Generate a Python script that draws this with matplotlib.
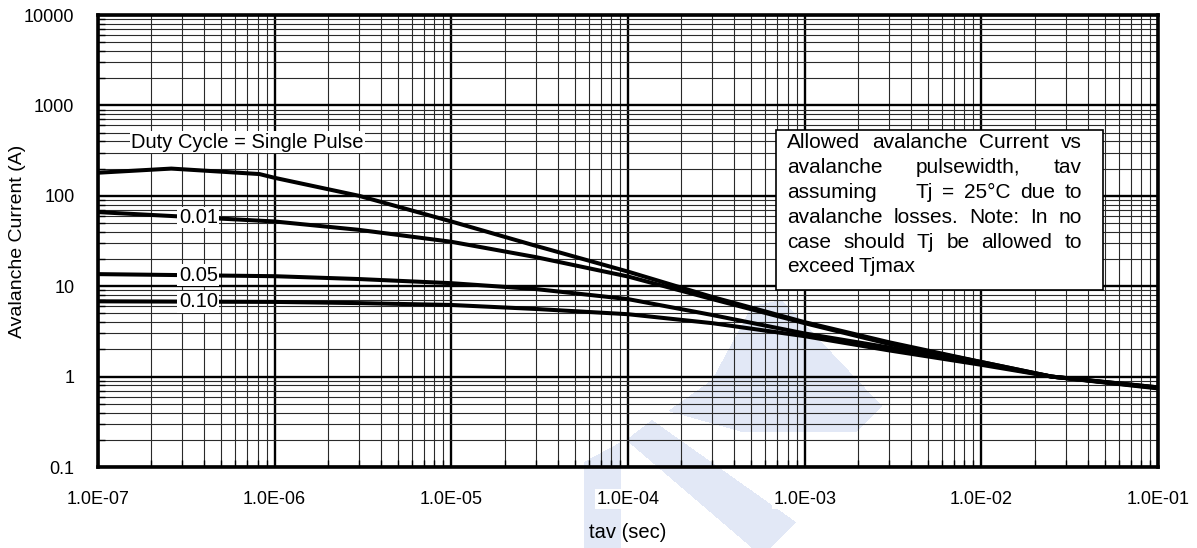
import matplotlib
matplotlib.use("Agg")
import matplotlib.pyplot as plt
import matplotlib.ticker as mticker
from matplotlib.path import Path
from matplotlib.patches import Rectangle
import numpy as np

plt.rcParams["font.family"] = ["Liberation Sans", "DejaVu Sans"]

W, H = 1197, 548

# Avalanche current (A) vs pulse width tav (s)
single_tav = [1e-7, 2.6e-7, 8.2e-7, 1e-6, 3e-6, 1e-5, 3e-5, 1e-4, 3e-4, 1e-3, 3e-3, 1e-2, 2.5e-2, 1e-1]
single_ia = [180, 200, 174, 158, 100, 52, 28, 14.5, 7.6, 4.0, 2.4, 1.45, 1.0, 0.76]

duty_tav = [1e-7, 1e-6, 3e-6, 1e-5, 3e-5, 1e-4, 3e-4, 1e-3, 3e-3, 1e-2, 2.5e-2, 1e-1]
duty001_ia = [66, 52, 42, 31, 21, 12.8, 7.2, 3.9, 2.3, 1.45, 1.0, 0.76]
duty005_ia = [13.6, 12.9, 12.0, 10.8, 9.3, 7.2, 4.8, 3.0, 2.1, 1.4, 1.0, 0.75]
duty010_ia = [6.8, 6.7, 6.5, 6.2, 5.6, 4.9, 3.9, 2.8, 1.95, 1.35, 1.0, 0.74]

duty_labels = ["0.01", "0.05", "0.10"]
label_tav = 3.7e-7

x_ticks = [1e-7, 1e-6, 1e-5, 1e-4, 1e-3, 1e-2, 1e-1]
x_ticklabels = ["1.0E-07", "1.0E-06", "1.0E-05", "1.0E-04", "1.0E-03", "1.0E-02", "1.0E-01"]
y_ticks = [0.1, 1, 10, 100, 1000, 10000]
y_ticklabels = ["0.1", "1", "10", "100", "1000", "10000"]

note_lines = [
    "Allowed avalanche Current vs",
    "avalanche pulsewidth, tav",
    "assuming    Tj = 25°C due to",
    "avalanche losses. Note: In no",
    "case should Tj be allowed to",
    "exceed Tjmax",
]


def px(x, y):
    return x / W, 1 - y / H


fig = plt.figure(figsize=(W / 100, H / 100), dpi=100)

# faint logo rasterised into a background image (pixel coordinates, y down)
logo_shapes = [
    [(584, 462), (621, 442), (621, 548), (584, 548)],
    [(626, 440), (652, 420), (796, 522), (770, 548), (752, 548)],
    [(668, 411), (712, 380), (752, 306), (782, 300), (882, 406), (857, 432), (742, 432)],
]
gx, gy = np.meshgrid(np.arange(W) + 0.5, np.arange(H) + 0.5)
pts = np.column_stack([gx.ravel(), gy.ravel()])
mask = np.zeros(H * W, dtype=bool)
for shape in logo_shapes:
    mask |= Path(shape).contains_points(pts)
bg_img = np.ones((H, W, 4))
bg_img[mask.reshape(H, W), :3] = np.array([0xe2, 0xe8, 0xf6]) / 255
fig.figimage(bg_img, xo=0, yo=0, origin="upper", zorder=-1)

ax = fig.add_axes([98 / W, 1 - 467 / H, (1158 - 98) / W, (467 - 15) / H])
ax.set_facecolor("none")
ax.set_xscale("log")
ax.set_yscale("log")
ax.set_xlim(1e-7, 1e-1)
ax.set_ylim(0.1, 10000)

ax.xaxis.set_minor_locator(mticker.LogLocator(base=10, subs=np.arange(2, 10), numticks=50))
ax.yaxis.set_minor_locator(mticker.LogLocator(base=10, subs=np.arange(2, 10), numticks=50))
ax.xaxis.set_minor_formatter(mticker.NullFormatter())
ax.yaxis.set_minor_formatter(mticker.NullFormatter())

ax.set_axisbelow(True)
ax.grid(which="major", color="black", linewidth=1.7)
ax.grid(which="minor", color="#2a2a2a", linewidth=0.8)

ax.set_xticks(x_ticks)
ax.set_xticklabels(x_ticklabels)
ax.set_yticks(y_ticks)
ax.set_yticklabels(y_ticklabels)
ax.tick_params(which="major", length=0, labelsize=13, pad=17)
ax.tick_params(which="minor", direction="in", length=5, width=1, color="black")
for lbl in ax.get_xticklabels():
    lbl.set_bbox(dict(facecolor="white", edgecolor="none", pad=1))

for sp in ax.spines.values():
    sp.set_linewidth(2.6)
    sp.set_zorder(5)

ax.plot(single_tav, single_ia, color="black", linewidth=2.9, zorder=3)
for ia in (duty001_ia, duty005_ia, duty010_ia):
    ax.plot(duty_tav, ia, color="black", linewidth=2.9, zorder=3)

label_box = dict(facecolor="white", edgecolor="none", pad=1)
ax.text(7.0e-7, 390, "Duty Cycle = Single Pulse", fontsize=14.5, ha="center", va="center",
        bbox=label_box, zorder=4)
log_tav = np.log10(duty_tav)
for text, ia in zip(duty_labels, (duty001_ia, duty005_ia, duty010_ia)):
    y = 10 ** np.interp(np.log10(label_tav), log_tav, np.log10(ia))
    ax.text(label_tav, y, text, fontsize=14.5, ha="center", va="center",
            bbox=label_box, zorder=4)

fig.text(*px(18, 241), "Avalanche Current (A)", fontsize=14, rotation=90,
         ha="center", va="center")
fig.text(*px(628, 533), "tav (sec)", fontsize=14.5, ha="center", va="center")

# note box with justified text
box_x0, box_x1, box_y0, box_y1 = 776, 1103, 130, 290
fig.add_artist(Rectangle(px(box_x0, box_y1), (box_x1 - box_x0) / W, (box_y1 - box_y0) / H,
                         transform=fig.transFigure, facecolor="white", edgecolor="black",
                         linewidth=1.2, zorder=6))

renderer = fig.canvas.get_renderer()
text_x0, text_x1 = 787, 1082
line_y0, line_step = 143, 24.8
for i, line in enumerate(note_lines):
    words = line.split(" ")
    items = [fig.text(0, 0, w, fontsize=15, ha="left", va="center", zorder=7) for w in words]
    widths = [t.get_window_extent(renderer).width if w else 0.0 for t, w in zip(items, words)]
    if i < len(note_lines) - 1 and len(words) > 1:
        gap = (text_x1 - text_x0 - sum(widths)) / (len(words) - 1)
    else:
        gap = 4.2
    x = text_x0
    y = line_y0 + i * line_step
    for t, w in zip(items, widths):
        t.set_position(px(x, y))
        x += w + gap

fig.savefig("out.png", dpi=100)
